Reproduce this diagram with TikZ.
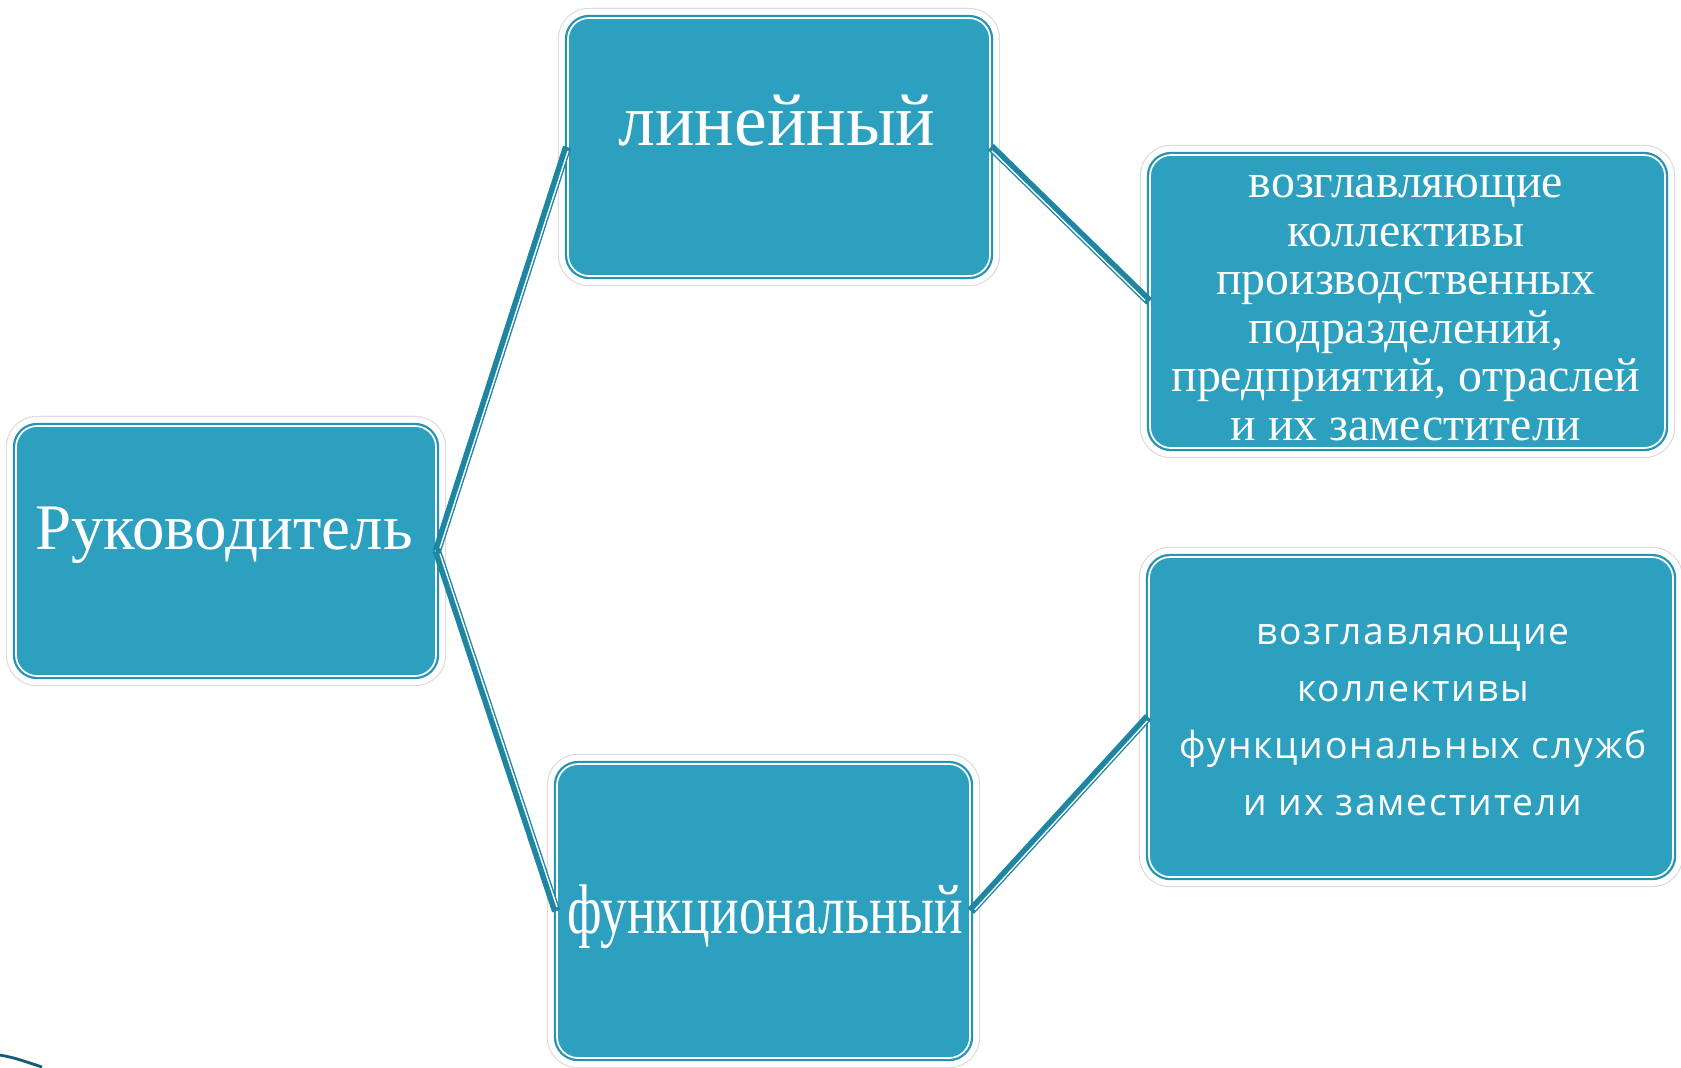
\documentclass[tikz,border=0pt]{standalone}
\usepackage{graphicx}
\usepackage{fontspec}
\setmainfont{Liberation Serif}
\newfontfamily\sansru[LetterSpace=5]{Open Sans}
\definecolor{boxfill}{RGB}{44,160,190}
\definecolor{boxedge}{RGB}{36,148,178}
\definecolor{linkcol}{RGB}{30,134,162}
\begin{document}
\begin{tikzpicture}[
	unit/.style={rounded corners=6pt, fill=boxfill, draw=white, line width=0.5pt,
		preaction={draw=gray!30, line width=5.8pt},
		preaction={draw=white, line width=5.2pt},
		preaction={draw=boxedge, line width=1.8pt}},
	txt/.style={text=white, inner sep=0pt, anchor=base, align=center},
	link/.style={draw=linkcol, line width=2.4pt},
	gap/.style={draw=white, line width=0.4pt, shorten <=1pt, shorten >=1pt}]
	\useasboundingbox (0,0) rectangle (16.81,-10.67);
	% boxes
	\node (R)  at ( 2.26, -5.51)	[unit, minimum width=4.20cm, minimum height=2.50cm]	{};
	\node (L)  at ( 7.79, -1.47)	[unit, minimum width=4.22cm, minimum height=2.58cm]	{};
	\node (F)  at ( 7.635,-9.11)	[unit, minimum width=4.13cm, minimum height=2.94cm]	{};
	\node (TR) at (14.075,-3.015)	[unit, minimum width=5.15cm, minimum height=2.93cm]	{};
	\node (BR) at (14.11, -7.17)	[unit, minimum width=5.24cm, minimum height=3.20cm]	{};
	% texts (base = last line)
	\node (Rt)  at ( 2.24, -5.49)	[txt, font=\fontsize{18.5}{19}\selectfont]	{Руководитель};
	\node (Lt)  at ( 7.77, -1.45)	[txt, font=\fontsize{21}{21}\selectfont]	{линейный};
	\node (Ft)  at ( 7.65, -9.33)	[txt, font=\fontsize{20}{20}\selectfont]	{\scalebox{0.76}[1]{функциональный}};
	\node (TRt) at (14.06, -4.40)	[txt, font=\fontsize{13.6}{13.8}\selectfont]
		{возглавляющие\\коллективы\\производственных\\подразделений,\\предприятий, отраслей\\и их заместители};
	\node (BRt) at (14.13, -8.15)	[txt, font=\sansru\fontsize{10.6}{16.2}\selectfont]
		{возглавляющие\\коллективы\\функциональных служб\\и их заместители};
	% connectors
	\draw[link] (R.east) -- (L.west);
	\draw[gap, transform canvas={shift={(0.57pt,-0.18pt)}}] (R.east) -- (L.west);
	\draw[link] (R.east) -- (F.west);
	\draw[gap, transform canvas={shift={(0.57pt,0.18pt)}}] (R.east) -- (F.west);
	\draw[link] (L.east) -- (TR.west);
	\draw[gap, transform canvas={shift={(-0.42pt,-0.43pt)}}] (L.east) -- (TR.west);
	\draw[link] (F.east) -- (BR.west);
	\draw[gap, transform canvas={shift={(0.45pt,-0.40pt)}}] (F.east) -- (BR.west);
	% stray edge bottom left
	\draw[linkcol!70!black, line width=0.8pt] (0,-10.55) .. controls (0.15,-10.58) .. (0.42,-10.67);
\end{tikzpicture}
\end{document}
